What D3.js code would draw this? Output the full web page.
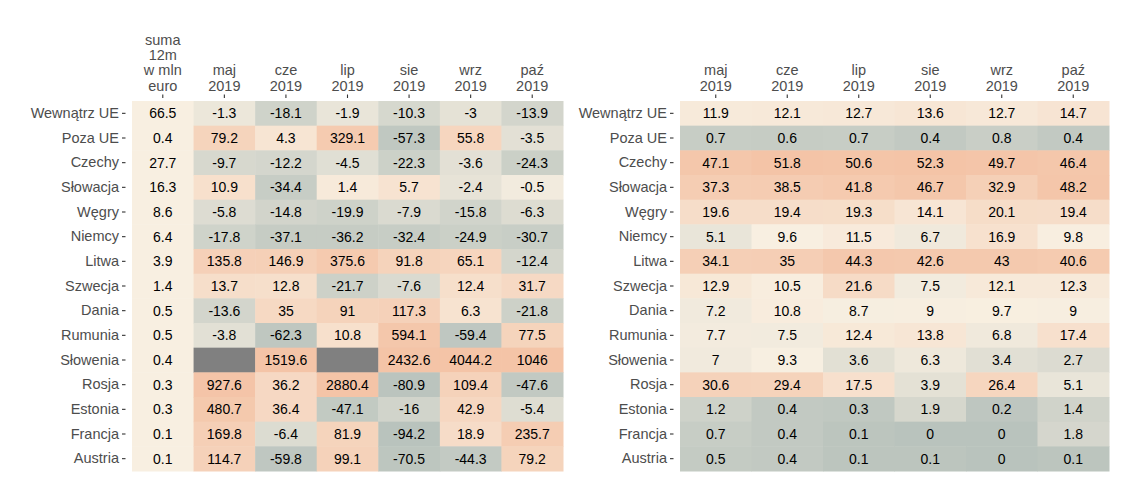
<!DOCTYPE html>
<html>
<head>
<meta charset="utf-8">
<script src="https://cdn.jsdelivr.net/npm/d3@7"></script>
<style>
  body { margin: 0; background: #fff; }
  svg { display: block; font-family: "Liberation Sans", Arial, sans-serif; }
</style>
</head>
<body>
<div id="chart"></div>
<script>
// DATA
const countries = ["Wewnątrz UE", "Poza UE", "Czechy", "Słowacja", "Węgry", "Niemcy", "Litwa",
  "Szwecja", "Dania", "Rumunia", "Słowenia", "Rosja", "Estonia", "Francja", "Austria"];

const monthLabels = ["maj\n2019", "cze\n2019", "lip\n2019", "sie\n2019", "wrz\n2019", "paź\n2019"];
const sumaLabel = "suma\n12m\nw mln\neuro";

// suma 12m w mln euro
const suma12m = [66.5, 0.4, 27.7, 16.3, 8.6, 6.4, 3.9, 1.4, 0.5, 0.5, 0.4, 0.3, 0.3, 0.1, 0.1];

// dynamika r/r w % (left panel), null = brak danych
const dynMaj = [-1.3, 79.2, -9.7, 10.9, -5.8, -17.8, 135.8, 13.7, -13.6, -3.8, null, 927.6, 480.7, 169.8, 114.7];
const dynCze = [-18.1, 4.3, -12.2, -34.4, -14.8, -37.1, 146.9, 12.8, 35, -62.3, 1519.6, 36.2, 36.4, -6.4, -59.8];
const dynLip = [-1.9, 329.1, -4.5, 1.4, -19.9, -36.2, 375.6, -21.7, 91, 10.8, null, 2880.4, -47.1, 81.9, 99.1];
const dynSie = [-10.3, -57.3, -22.3, 5.7, -7.9, -32.4, 91.8, -7.6, 117.3, 594.1, 2432.6, -80.9, -16, -94.2, -70.5];
const dynWrz = [-3, 55.8, -3.6, -2.4, -15.8, -24.9, 65.1, 12.4, 6.3, -59.4, 4044.2, 109.4, 42.9, 18.9, -44.3];
const dynPaz = [-13.9, -3.5, -24.3, -0.5, -6.3, -30.7, -12.4, 31.7, -21.8, 77.5, 1046, -47.6, -5.4, 235.7, 79.2];

// udzial w % (right panel)
const udzMaj = [11.9, 0.7, 47.1, 37.3, 19.6, 5.1, 34.1, 12.9, 7.2, 7.7, 7, 30.6, 1.2, 0.7, 0.5];
const udzCze = [12.1, 0.6, 51.8, 38.5, 19.4, 9.6, 35, 10.5, 10.8, 7.5, 9.3, 29.4, 0.4, 0.4, 0.4];
const udzLip = [12.7, 0.7, 50.6, 41.8, 19.3, 11.5, 44.3, 21.6, 8.7, 12.4, 3.6, 17.5, 0.3, 0.1, 0.1];
const udzSie = [13.6, 0.4, 52.3, 46.7, 14.1, 6.7, 42.6, 7.5, 9, 13.8, 6.3, 3.9, 1.9, 0, 0.1];
const udzWrz = [12.7, 0.8, 49.7, 32.9, 20.1, 16.9, 43, 12.1, 9.7, 6.8, 3.4, 26.4, 0.2, 0, 0];
const udzPaz = [14.7, 0.4, 46.4, 48.2, 19.4, 9.8, 40.6, 12.3, 9, 17.4, 2.7, 5.1, 1.4, 1.8, 0.1];

const dynSeries = [dynMaj, dynCze, dynLip, dynSie, dynWrz, dynPaz];
const udzSeries = [udzMaj, udzCze, udzLip, udzSie, udzWrz, udzPaz];

// COLORS
const LOW = "#b9c3bd", MID = "#f8efe1", HIGH = "#f4c4a7", NA_FILL = "#808080";
const ramp = d3.piecewise(d3.interpolateRgb, [LOW, MID, HIGH]);

const WIDTH = 1125, HEIGHT = 482;
const TOP = 101, BOTTOM = 471;
const LINE_H = 15.3;

const svg = d3.select("#chart").append("svg")
  .attr("width", WIDTH)
  .attr("height", HEIGHT);

function drawPanel(opts) {
  const cols = opts.cols;
  const x = d3.scaleBand().domain(d3.range(cols.length)).range([opts.left, opts.right]);
  const y = d3.scaleBand().domain(countries).range([TOP, BOTTOM]);

  const g = svg.append("g");

  const cells = [];
  cols.forEach((c, j) => {
    c.values.forEach((v, i) => cells.push({ col: j, country: countries[i], value: v, fixed: c.fixed }));
  });

  g.selectAll("rect.cell")
    .data(cells)
    .enter()
    .append("rect")
    .attr("class", "cell")
    .attr("x", d => x(d.col))
    .attr("y", d => y(d.country))
    .attr("width", x.bandwidth() + 0.5)
    .attr("height", y.bandwidth() + 0.5)
    .attr("fill", d => d.fixed ? d.fixed : (d.value == null ? NA_FILL : opts.color(d.value)));

  g.selectAll("text.val")
    .data(cells.filter(d => d.value != null))
    .enter()
    .append("text")
    .attr("class", "val")
    .attr("x", d => x(d.col) + x.bandwidth() / 2)
    .attr("y", d => y(d.country) + y.bandwidth() / 2)
    .attr("dy", "0.36em")
    .attr("text-anchor", "middle")
    .attr("font-size", 14)
    .attr("fill", "#000")
    .text(d => String(d.value));

  // Y AXIS
  const yAxis = g.append("g")
    .attr("transform", `translate(${opts.left - 6.5}, 0)`)
    .call(d3.axisLeft(y).tickSize(3.5).tickPadding(3));
  yAxis.select(".domain").remove();
  yAxis.selectAll(".tick line").attr("stroke", "#333").attr("stroke-width", 1.1);
  yAxis.selectAll("text")
    .attr("font-size", 14.5)
    .attr("font-family", "Liberation Sans, Arial, sans-serif")
    .attr("fill", "#4d4d4d");

  // X AXIS (top)
  const xAxis = g.append("g")
    .attr("transform", `translate(0, ${TOP - 3})`)
    .call(d3.axisTop(x).tickSize(3.5).tickPadding(4).tickFormat(j => cols[j].label));
  xAxis.select(".domain").remove();
  xAxis.selectAll(".tick line").attr("stroke", "#333").attr("stroke-width", 1.1);
  xAxis.selectAll("text")
    .attr("font-size", 14.5)
    .attr("font-family", "Liberation Sans, Arial, sans-serif")
    .attr("fill", "#4d4d4d")
    .each(function(j) {
      const lines = cols[j].label.split("\n");
      const t = d3.select(this).text(null);
      lines.forEach((line, k) => {
        t.append("tspan")
          .attr("x", 0)
          .attr("dy", k === 0 ? -(lines.length - 1) * LINE_H : LINE_H)
          .text(line);
      });
    });
}

// LEFT PANEL: dynamika
const dynColor = d3.scaleDivergingSymlog()
  .domain([-94.2, 0, 1000])
  .interpolator(ramp)
  .clamp(true);

drawPanel({
  left: 132, right: 563,
  color: dynColor,
  cols: [{ label: sumaLabel, values: suma12m, fixed: MID }]
    .concat(dynSeries.map((s, j) => ({ label: monthLabels[j], values: s })))
});

// RIGHT PANEL: udzial
const udzColor = d3.scaleDivergingSymlog()
  .domain([0, 9.5, 52.3])
  .interpolator(ramp)
  .clamp(true);

drawPanel({
  left: 680, right: 1109,
  color: udzColor,
  cols: udzSeries.map((s, j) => ({ label: monthLabels[j], values: s }))
});
</script>
</body>
</html>
